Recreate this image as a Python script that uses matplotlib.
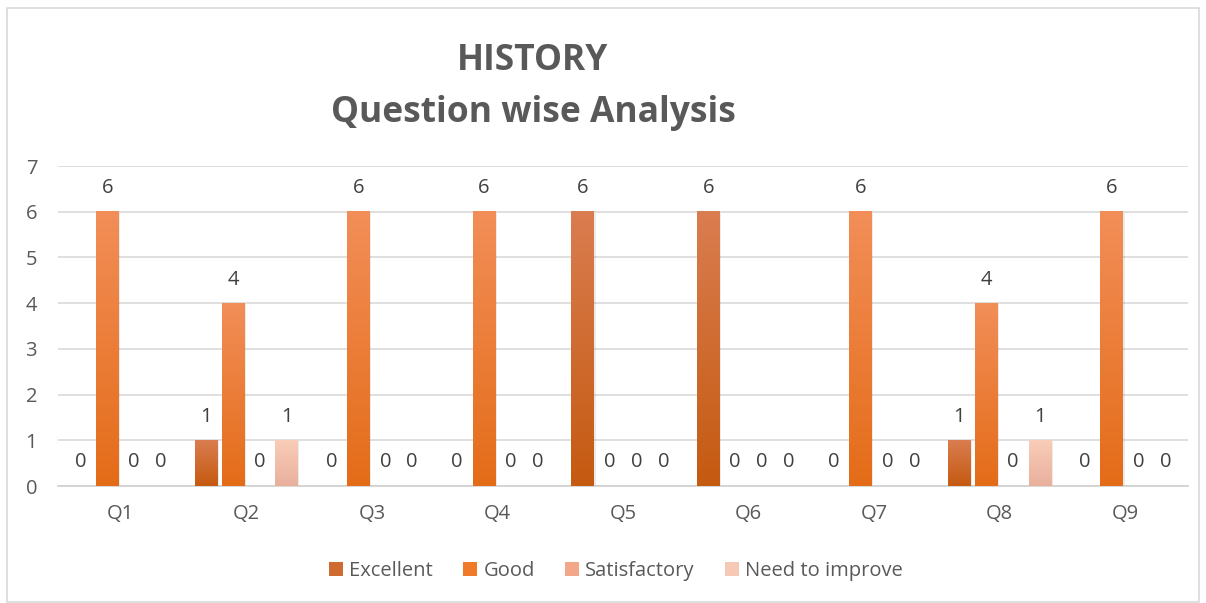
import matplotlib
matplotlib.use("Agg")
import matplotlib.pyplot as plt
import numpy as np
from matplotlib.colors import LinearSegmentedColormap
from matplotlib.patches import Rectangle

categories = ["Q1", "Q2", "Q3", "Q4", "Q5", "Q6", "Q7", "Q8", "Q9"]
series_names = ["Excellent", "Good", "Satisfactory", "Need to improve"]
excellent = [0, 1, 0, 0, 6, 6, 0, 1, 0]
good = [6, 4, 6, 6, 0, 0, 6, 4, 6]
satisfactory = [0, 0, 0, 0, 0, 0, 0, 0, 0]
need_to_improve = [0, 1, 0, 0, 0, 0, 0, 1, 0]
yticks = [0, 1, 2, 3, 4, 5, 6, 7]

series = [excellent, good, satisfactory, need_to_improve]
# (top colour, bottom colour) gradients
grads = [("#DA7D50", "#C55A11"),
         ("#F28E58", "#E46C18"),
         ("#F5B08A", "#EE9A70"),
         ("#F9CDB8", "#E9B09C")]
legend_cols = ["#CF6A30", "#EE7A2A", "#F2A788", "#F6C8B6"]

plt.rcParams['font.family'] = ['Open Sans', 'DejaVu Sans']
fig = plt.figure(figsize=(12.06, 6.03), dpi=100)
ax = fig.add_axes([58/1206, 1-486/603, (1188-58)/1206, (486-166)/603])

# chart border
fig.patches.append(Rectangle((7/1206, 0.002), (1199-7)/1206, 1-9/603, transform=fig.transFigure,
                             fill=False, edgecolor="#D9D9D9", linewidth=1.2))

n = len(categories)
x = np.arange(n)
bw = 0.18
step = 0.214
offsets = (np.arange(4) - 1.5) * step

grad_img = np.linspace(1, 0, 256).reshape(-1, 1)
for si, vals in enumerate(series):
    cmap = LinearSegmentedColormap.from_list("g%d" % si, [grads[si][1], grads[si][0]])
    for xi, v in zip(x, vals):
        xc = xi + offsets[si]
        if v > 0:
            # shadow
            ax.add_patch(Rectangle((xc - bw/2 + 0.012, 0), bw, v - 0.02, facecolor="#000000",
                                   alpha=0.08, edgecolor="none", zorder=2))
            ax.imshow(grad_img, cmap=cmap, aspect='auto',
                      extent=(xc - bw/2, xc + bw/2, 0, v), zorder=3, vmin=0, vmax=1)
        ax.annotate(str(v), (xc, v), xytext=(0, 17), textcoords="offset points",
                    ha="center", va="center", fontsize=14.5, color="#404040", zorder=5)

ax.set_xlim(-0.5, n - 0.5)
ax.set_ylim(0, 7)
ax.set_yticks(yticks)
ax.set_yticklabels([str(t) for t in yticks])
ax.set_xticks(x)
ax.set_xticklabels(categories)
ax.tick_params(axis='both', length=0, labelsize=14.5, labelcolor="#595959")
ax.tick_params(axis='y', pad=15)
ax.tick_params(axis='x', pad=13)
ax.grid(axis='y', color="#D9D9D9", linewidth=1.2, zorder=0)
ax.set_axisbelow(True)
for s in ["top", "right", "left"]:
    ax.spines[s].set_visible(False)
ax.spines["bottom"].set_color("#D0D0D0")
ax.spines["bottom"].set_linewidth(1.2)

fig.text(533/1206, 1-61/603, "HISTORY", ha="center", va="center", fontsize=25.5,
         fontweight="bold", color="#595959")
fig.text(533/1206, 1-113/603, "Question wise Analysis", ha="center", va="center", fontsize=25.5,
         fontweight="bold", color="#595959")

handles = [Rectangle((0, 0), 1, 1, facecolor=c, edgecolor="none") for c in legend_cols]
fig.legend(handles, series_names, loc="center", bbox_to_anchor=(616/1206, 1-571/603), ncol=4,
           frameon=False, fontsize=14.5, labelcolor="#595959", handlelength=0.7, handleheight=0.7,
           handletextpad=0.3, columnspacing=1.5)

fig.savefig("out.png", dpi=100)
